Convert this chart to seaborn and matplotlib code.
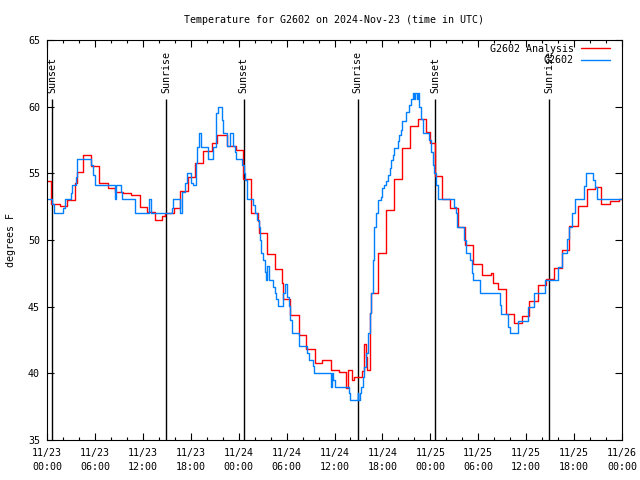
import matplotlib
matplotlib.use("Agg")
import matplotlib.pyplot as plt
from matplotlib.ticker import MultipleLocator, FixedLocator
import seaborn as sns
import pandas as pd

# ---------------- data (hours since 2024-11-23 00:00 UTC) ----------------
analysis_hours = [0, 0.55, 1.6, 2.55, 3.55, 3.75, 4.55, 5.55, 6.55, 7.6, 8.55, 9.55, 10.5,
                  11.6, 12.55, 13.5, 14.4, 14.75, 15.9, 16.6, 17.7, 18.55, 19.55, 20.6, 21.3,
                  22.6, 23.7, 24.6, 25.6, 26.4, 26.6, 27.55, 28.5, 29.45, 29.6, 30.45, 31.5,
                  32.45, 33.5, 33.6, 34.45, 35.6, 36.6, 37.45, 37.7, 38.2, 38.5, 39.45, 39.65,
                  39.9, 40.1, 40.4, 40.6, 41.45, 42.45, 43.5, 44.5, 45.5, 46.5, 47.5, 47.9,
                  48.55, 49.5, 50.5, 51.45, 52.4, 53.4, 54.5, 55.6, 55.8, 56.5, 57.5, 58.5,
                  59.5, 60.4, 61.5, 62.5, 63.5, 64.5, 65.4, 66.5, 67.6, 68.6, 69.4, 70.5,
                  71.6, 72]
analysis_temps = [54.4, 52.7, 52.55, 53.0, 54.3, 55.1, 56.35, 55.55, 54.3, 53.9, 53.6, 53.5, 53.4,
                  52.5, 52.1, 51.5, 51.8, 52.0, 52.4, 53.7, 54.7, 55.8, 56.7, 57.25, 57.9,
                  57.05, 56.75, 54.55, 52.0, 51.4, 50.5, 48.95, 47.8, 46.8, 45.6, 44.4, 42.9,
                  41.8, 41.3, 40.8, 41.0, 40.25, 40.1, 38.9, 40.25, 39.5, 39.7, 40.2, 42.2,
                  41.2, 40.25, 44.5, 46.0, 49.0, 52.25, 54.55, 56.9, 58.55, 59.1, 58.1, 57.25,
                  54.8, 53.05, 52.4, 50.95, 49.6, 48.2, 47.4, 47.5, 46.75, 46.3, 44.45, 43.75,
                  44.3, 45.4, 46.6, 47.05, 47.9, 49.25, 51.05, 52.55, 53.8, 54.0, 52.7, 52.9,
                  53.05, 53.05]

obs_hours = [0, 0.6, 0.9, 2.0, 2.25, 3.0, 3.15, 3.6, 3.8, 5.5, 5.8, 6.0, 8.5, 8.7, 9.3, 9.4,
             11.0, 12.75, 13.0, 15.6, 15.8, 16.6, 16.9, 17.25, 17.55, 18.0, 18.3, 18.6, 18.8,
             19.0, 19.25, 20.2, 20.8, 21.2, 21.4, 21.9, 22.1, 22.5, 22.9, 23.3, 23.5, 23.7,
             24.4, 24.65, 24.8, 25.05, 25.8, 26.0, 26.3, 26.5, 26.65, 26.8, 27.04, 27.25,
             27.4, 27.54, 27.8, 28.3, 28.5, 28.7, 28.9, 29.6, 29.83, 30.0, 30.25, 30.46,
             30.67, 31.5, 32.54, 32.75, 33.3, 33.4, 35.6, 35.7, 35.8, 36.0, 37.8, 37.96,
             38.9, 39.0, 39.2, 39.3, 39.54, 39.75, 39.96, 40.2, 40.4, 40.6, 40.8, 41.0,
             41.2, 41.5, 41.8, 42.0, 42.25, 42.45, 42.7, 42.9, 43.1, 43.3, 43.5, 43.9,
             44.1, 44.3, 44.5, 44.9, 45.3, 45.6, 45.8, 46.0, 46.1, 46.35, 46.45, 46.6,
             46.8, 47.1, 47.8, 48.1, 48.3, 48.5, 48.7, 48.9, 51.0, 51.2, 51.4, 52.25,
             52.45, 53.0, 53.2, 53.4, 54.25, 56.7, 56.9, 57.75, 57.96, 59.0, 60.25, 61.0,
             62.3, 64.0, 64.5, 65.1, 65.4, 65.8, 66.1, 67.25, 67.5, 68.4, 68.6, 68.9, 72]
obs_temps = [53.05, 52.7, 52.0, 52.4, 53.05, 53.5, 54.1, 54.75, 56.1, 55.6, 54.9, 54.1, 53.05,
             54.1, 53.6, 53.05, 52.0, 53.05, 52.0, 52.4, 53.05, 52.0, 53.6, 54.3, 55.0, 54.3,
             54.1, 55.75, 57.0, 58.0, 57.0, 56.1, 57.0, 59.5, 60.0, 59.0, 58.0, 57.05, 58.0,
             57.05, 56.6, 56.1, 55.6, 55.0, 54.5, 53.05, 52.6, 52.0, 51.5, 51.0, 50.0, 49.0,
             48.5, 47.6, 47.0, 48.05, 47.0, 46.5, 46.0, 45.6, 45.05, 46.0, 46.7, 45.75, 45.05,
             44.0, 43.0, 42.05, 41.5, 41.0, 40.55, 40.0, 39.0, 40.0, 39.5, 39.0, 38.5, 38.0,
             38.5, 38.0, 38.5, 39.0, 39.75, 40.5, 41.5, 43.0, 44.5, 46.0, 48.5, 51.0,
             52.0, 53.0, 53.25, 53.9, 54.1, 54.4, 54.9, 55.4, 56.0, 56.4, 56.9, 57.4,
             57.9, 58.25, 58.9, 59.6, 60.1, 60.6, 61.0, 60.6, 61.0, 60.6, 61.0, 60.0,
             59.1, 58.0, 57.5, 56.6, 55.6, 55.0, 54.1, 53.05, 52.5, 52.0, 51.0, 50.0,
             49.0, 48.5, 47.5, 47.0, 46.0, 45.1, 44.45, 43.5, 43.0, 43.95, 45.0, 46.0,
             47.0, 48.0, 49.0, 50.05, 51.0, 52.0, 53.05, 54.05, 55.0, 54.5, 54.0, 53.05, 53.05]

sun_event_hours = [0.65, 14.9, 24.65, 38.9, 48.6, 62.9]
sun_event_names = ["Sunset", "Sunrise", "Sunset", "Sunrise", "Sunset", "Sunrise"]

xtick_hours = [0, 6, 12, 18, 24, 30, 36, 42, 48, 54, 60, 66, 72]
xtick_labels = ["11/23\n00:00", "11/23\n06:00", "11/23\n12:00", "11/23\n18:00",
                "11/24\n00:00", "11/24\n06:00", "11/24\n12:00", "11/24\n18:00",
                "11/25\n00:00", "11/25\n06:00", "11/25\n12:00", "11/25\n18:00",
                "11/26\n00:00"]
ytick_values = [35, 40, 45, 50, 55, 60, 65]

title_text = "Temperature for G2602 on 2024-Nov-23 (time in UTC)"
ylabel_text = "degrees F"
series_names = ["G2602 Analysis", "G2602"]

# ---------------- style ----------------
sns.set_theme(style="ticks", rc={
    "axes.edgecolor": "black", "axes.linewidth": 0.8,
    "text.color": "black", "axes.labelcolor": "black",
    "xtick.color": "black", "ytick.color": "black",
})
FS = 7.2
plt.rcParams["font.family"] = ["DejaVu Sans Mono"]

df_an = pd.DataFrame({"hours": analysis_hours, "temp": analysis_temps})
df_ob = pd.DataFrame({"hours": obs_hours, "temp": obs_temps})

fig = plt.figure(figsize=(6.4, 4.8), dpi=100)
ax = fig.add_axes([47 / 640, 40 / 480, 575 / 640, 400 / 480])

sns.lineplot(data=df_an, x="hours", y="temp", estimator=None, sort=False,
             drawstyle="steps-post", color="#ff0000", linewidth=1.0,
             label=series_names[0], ax=ax)
sns.lineplot(data=df_ob, x="hours", y="temp", estimator=None, sort=False,
             drawstyle="steps-post", color="#0080ff", linewidth=1.0,
             label=series_names[1], ax=ax)

ax.set_xlim(0, 72)
ax.set_ylim(35, 65)

# sunrise / sunset markers
ax.vlines(sun_event_hours, 35, 60.58, color="black", linewidth=1.0, zorder=1)
for h, name in zip(sun_event_hours, sun_event_names):
    ax.text(h, 61.05, name, rotation=90, ha="center", va="bottom", fontsize=FS, zorder=1)

ax.xaxis.set_major_locator(FixedLocator(xtick_hours))
ax.set_xticklabels(xtick_labels)
ax.xaxis.set_minor_locator(MultipleLocator(2))
ax.set_yticks(ytick_values)
ax.tick_params(axis="both", which="major", direction="in", top=True, right=True,
               length=5, width=0.8, labelsize=FS, pad=5)
ax.tick_params(axis="x", which="major", pad=6)
ax.tick_params(axis="x", which="minor", direction="in", top=True, length=2.5, width=0.8)
ax.tick_params(axis="y", which="minor", left=False, right=False)
for lab in ax.get_xticklabels():
    lab.set_linespacing(1.4)

ax.set_xlabel("")
ax.set_ylabel(ylabel_text, fontsize=FS)
ax.yaxis.set_label_coords(-31 / 575, 0.5)
ax.set_title(title_text, fontsize=FS, pad=12)

leg = ax.legend(loc="upper right", bbox_to_anchor=(0.986, 1.0), borderaxespad=0,
                frameon=False, markerfirst=False, handlelength=2.9, handletextpad=0.7,
                labelspacing=0.15, fontsize=FS)

for s in ax.spines.values():
    s.set_visible(True)
    s.set_color("black")

fig.savefig("out.png", dpi=100)
